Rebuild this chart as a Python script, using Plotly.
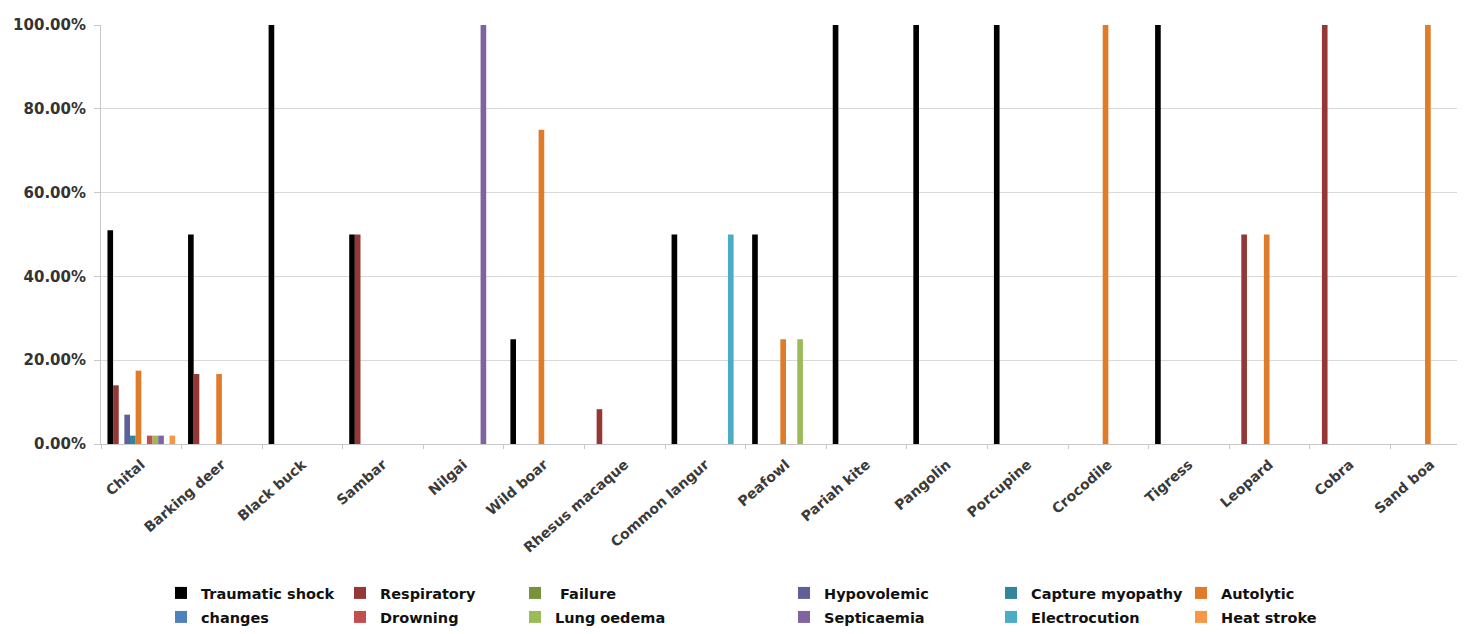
import plotly.graph_objects as go

categories = ["Chital", "Barking deer", "Black buck", "Sambar", "Nilgai", "Wild boar",
              "Rhesus macaque", "Common langur", "Peafowl", "Pariah kite", "Pangolin",
              "Porcupine", "Crocodile", "Tigress", "Leopard", "Cobra", "Sand boa"]

series_names = ["Traumatic shock", "Respiratory", " Failure", "Hypovolemic", "Capture myopathy",
                "Autolytic", "changes", "Drowning", "Lung oedema", "Septicaemia",
                "Electrocution", "Heat stroke"]

traumatic_shock  = [0.51, 0.50, 1.00, 0.50, 0, 0.25, 0, 0.50, 0.50, 1.00, 1.00, 1.00, 0, 1.00, 0, 0, 0]
respiratory      = [0.14, 0.167, 0, 0.50, 0, 0, 0.083, 0, 0, 0, 0, 0, 0, 0, 0.50, 1.00, 0]
failure          = [0, 0, 0, 0, 0, 0, 0, 0, 0, 0, 0, 0, 0, 0, 0, 0, 0]
hypovolemic      = [0.07, 0, 0, 0, 0, 0, 0, 0, 0, 0, 0, 0, 0, 0, 0, 0, 0]
capture_myopathy = [0.02, 0, 0, 0, 0, 0, 0, 0, 0, 0, 0, 0, 0, 0, 0, 0, 0]
autolytic        = [0.175, 0.167, 0, 0, 0, 0.75, 0, 0, 0.25, 0, 0, 0, 1.00, 0, 0.50, 0, 1.00]
changes          = [0, 0, 0, 0, 0, 0, 0, 0, 0, 0, 0, 0, 0, 0, 0, 0, 0]
drowning         = [0.02, 0, 0, 0, 0, 0, 0, 0, 0, 0, 0, 0, 0, 0, 0, 0, 0]
lung_oedema      = [0.02, 0, 0, 0, 0, 0, 0, 0, 0.25, 0, 0, 0, 0, 0, 0, 0, 0]
septicaemia      = [0.02, 0, 0, 0, 1.00, 0, 0, 0, 0, 0, 0, 0, 0, 0, 0, 0, 0]
electrocution    = [0, 0, 0, 0, 0, 0, 0, 0.50, 0, 0, 0, 0, 0, 0, 0, 0, 0]
heat_stroke      = [0.02, 0, 0, 0, 0, 0, 0, 0, 0, 0, 0, 0, 0, 0, 0, 0, 0]

series_values = [traumatic_shock, respiratory, failure, hypovolemic, capture_myopathy,
                 autolytic, changes, drowning, lung_oedema, septicaemia, electrocution, heat_stroke]

colors = ["#000000", "#953735", "#77933C", "#5F5F9A", "#31859C", "#E07B2A",
          "#4F81BD", "#C0504D", "#9BBB59", "#8064A2", "#4BACC6", "#F79646"]

tick_vals = [0, 0.2, 0.4, 0.6, 0.8, 1.0]
tick_text = ["0.00%", "20.00%", "40.00%", "60.00%", "80.00%", "100.00%"]

W, H = 1465, 634
FONT = "DejaVu Sans, Liberation Sans, Arial, sans-serif"
# legend column (box left) and row (box top) positions in pixels
legend_cols_px = [153, 332, 507, 776, 983, 1173]
legend_rows_px = [569, 593]

fig = go.Figure()
for i, (name, vals, col) in enumerate(zip(series_names, series_values, colors)):
    lname = "legend" if i == 0 else f"legend{i + 1}"
    fig.add_trace(go.Bar(x=categories, y=vals, name=name, marker_color=col,
                         marker_line_width=0, legend=lname))

legend_font = dict(family=FONT, size=14.5, color="#111111", weight="bold")
layout_legends = {}
for i in range(len(series_names)):
    key = "legend" if i == 0 else f"legend{i + 1}"
    px = legend_cols_px[i % 6]
    py = legend_rows_px[i // 6]
    layout_legends[key] = dict(
        x=px / W, xref="container", xanchor="left",
        y=1 - py / H, yref="container", yanchor="top",
        orientation="v", font=legend_font, bgcolor="rgba(0,0,0,0)",
        tracegroupgap=0, itemwidth=30,
    )

fig.update_layout(
    width=W, height=H,
    margin=dict(l=93, r=2, t=17, b=198, autoexpand=False),
    plot_bgcolor="white", paper_bgcolor="white",
    barmode="group", bargap=0.16, bargroupgap=0,
    showlegend=True,
    font=dict(family=FONT, color="#333333"),
    **layout_legends,
)
fig.update_xaxes(
    type="category", tickangle=-41, tickson="boundaries", ticks="outside", ticklen=4,
    tickcolor="#c8c8c8", showline=True, linecolor="#c8c8c8", linewidth=1,
    showgrid=False, automargin=False, ticklabelstandoff=6,
    tickfont=dict(family=FONT, size=14, color="#3a3a3a", weight="bold"),
)
fig.update_yaxes(
    range=[0, 1.0], tickvals=tick_vals, ticktext=tick_text,
    ticks="outside", ticklen=6, tickcolor="#c8c8c8", ticklabelstandoff=5,
    showline=True, linecolor="#c8c8c8", linewidth=1,
    showgrid=True, gridcolor="#d9d9d9", gridwidth=1, zeroline=False, automargin=False,
    tickfont=dict(family=FONT, size=15, color="#333333", weight="bold"),
)

fig.write_html("out.html")
